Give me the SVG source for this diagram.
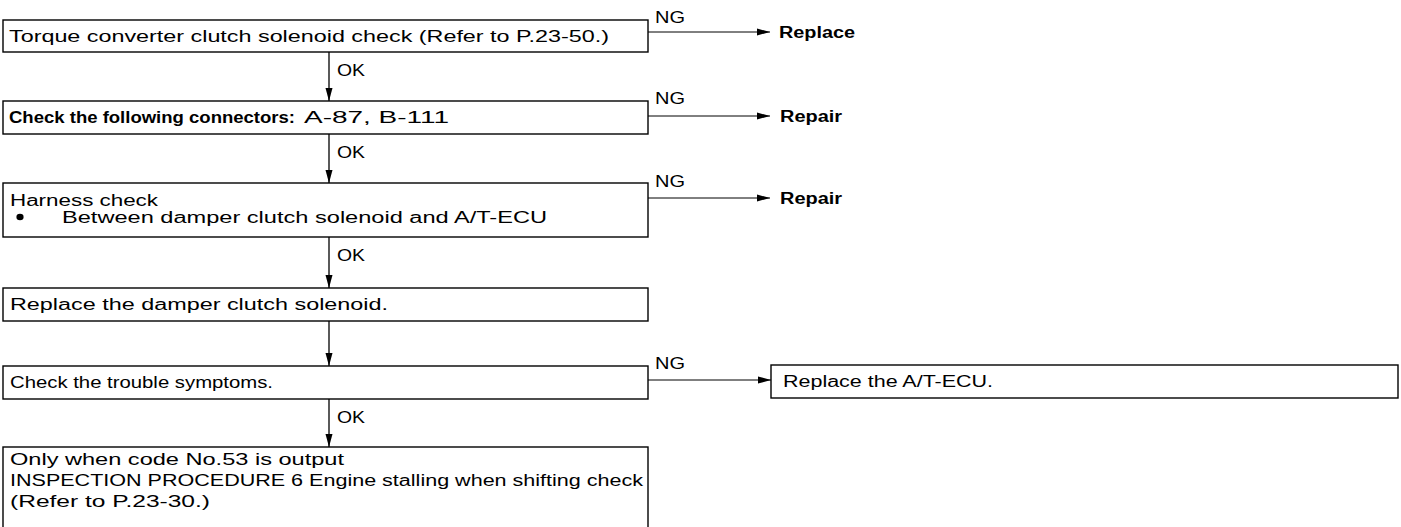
<svg xmlns="http://www.w3.org/2000/svg" width="1401" height="527" viewBox="0 0 1401 527">
<style>
.box{fill:none;stroke:#000;stroke-width:1.4}
.t{font-family:"Liberation Sans",Arial,sans-serif;font-size:16px;fill:#000}
.b{font-weight:bold}
.c{stroke:#000;stroke-width:1.3;fill:none}
.h{stroke:#000;stroke-width:1;fill:none}
</style>
<defs>
<marker id="ah" markerWidth="14" markerHeight="8" refX="13" refY="4" orient="auto" markerUnits="userSpaceOnUse">
<path d="M0,0.5 L13,4 L0,7.5 Z" fill="#000"/>
</marker>
</defs>
<rect width="1401" height="527" fill="#fff"/>

<g id="connectors">
<line class="c" x1="329" y1="52" x2="329" y2="101" marker-end="url(#ah)"/>
<line class="c" x1="329" y1="134" x2="329" y2="183" marker-end="url(#ah)"/>
<line class="c" x1="329" y1="237" x2="329" y2="288" marker-end="url(#ah)"/>
<line class="c" x1="329" y1="321" x2="329" y2="366" marker-end="url(#ah)"/>
<line class="c" x1="329" y1="399" x2="329" y2="447" marker-end="url(#ah)"/>
<line class="h" x1="648" y1="32" x2="770" y2="32" marker-end="url(#ah)"/>
<line class="h" x1="648" y1="116" x2="770" y2="116" marker-end="url(#ah)"/>
<line class="h" x1="648" y1="198" x2="770" y2="198" marker-end="url(#ah)"/>
<line class="h" x1="648" y1="380" x2="771" y2="380" marker-end="url(#ah)"/>
<text class="t" x="337" y="76" textLength="28" lengthAdjust="spacingAndGlyphs">OK</text>
<text class="t" x="337" y="158" textLength="28" lengthAdjust="spacingAndGlyphs">OK</text>
<text class="t" x="337" y="261" textLength="28" lengthAdjust="spacingAndGlyphs">OK</text>
<text class="t" x="337" y="423" textLength="28" lengthAdjust="spacingAndGlyphs">OK</text>
<text class="t" x="655" y="23" textLength="30" lengthAdjust="spacingAndGlyphs">NG</text>
<text class="t" x="655" y="104" textLength="30" lengthAdjust="spacingAndGlyphs">NG</text>
<text class="t" x="655" y="187" textLength="30" lengthAdjust="spacingAndGlyphs">NG</text>
<text class="t" x="655" y="369" textLength="30" lengthAdjust="spacingAndGlyphs">NG</text>
</g>

<g id="n1">
<rect class="box" x="3" y="20" width="645" height="32"/>
<text class="t" x="9" y="42" textLength="600" lengthAdjust="spacingAndGlyphs">Torque converter clutch solenoid check (Refer to P.23-50.)</text>
</g>
<g id="r1">
<text class="t b" x="779" y="38" textLength="76" lengthAdjust="spacingAndGlyphs">Replace</text>
</g>

<g id="n2">
<rect class="box" x="3" y="101" width="645" height="33"/>
<text class="t b" x="9" y="123" textLength="286" lengthAdjust="spacingAndGlyphs">Check the following connectors:</text>
<text class="t" x="304" y="123" textLength="145" lengthAdjust="spacingAndGlyphs">A-87, B-111</text>
</g>
<g id="r2">
<text class="t b" x="780" y="122" textLength="62" lengthAdjust="spacingAndGlyphs">Repair</text>
</g>

<g id="n3">
<rect class="box" x="3" y="183" width="645" height="54"/>
<text class="t" x="10" y="206" textLength="148" lengthAdjust="spacingAndGlyphs">Harness check</text>
<ellipse cx="20" cy="217" rx="3.6" ry="3.2" fill="#000"/>
<text class="t" x="62" y="223" textLength="485" lengthAdjust="spacingAndGlyphs">Between damper clutch solenoid and A/T-ECU</text>
</g>
<g id="r3">
<text class="t b" x="780" y="204" textLength="62" lengthAdjust="spacingAndGlyphs">Repair</text>
</g>

<g id="n4">
<rect class="box" x="3" y="288" width="645" height="33"/>
<text class="t" x="10" y="310" textLength="378" lengthAdjust="spacingAndGlyphs">Replace the damper clutch solenoid.</text>
</g>

<g id="n5">
<rect class="box" x="3" y="366" width="645" height="33"/>
<text class="t" x="10" y="388" textLength="263" lengthAdjust="spacingAndGlyphs">Check the trouble symptoms.</text>
</g>

<g id="n6">
<rect class="box" x="771" y="365" width="627" height="33"/>
<text class="t" x="783" y="387" textLength="210" lengthAdjust="spacingAndGlyphs">Replace the A/T-ECU.</text>
</g>

<g id="n7">
<rect class="box" x="3" y="447" width="645" height="84"/>
<text class="t" x="10" y="465" textLength="334" lengthAdjust="spacingAndGlyphs">Only when code No.53 is output</text>
<text class="t" x="10" y="486" textLength="633" lengthAdjust="spacingAndGlyphs">INSPECTION PROCEDURE 6 Engine stalling when shifting check</text>
<text class="t" x="10" y="507" textLength="200" lengthAdjust="spacingAndGlyphs">(Refer to P.23-30.)</text>
</g>
</svg>
